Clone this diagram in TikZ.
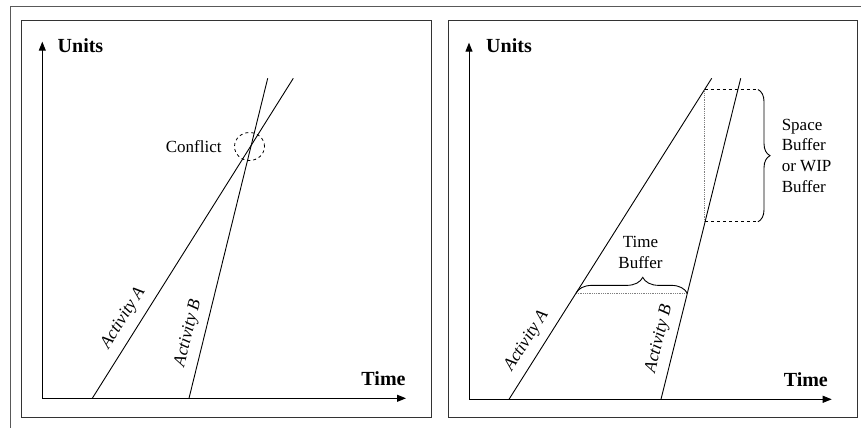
\documentclass[tikz,border=0pt]{standalone}
\usepackage{fontspec}
\setmainfont{Liberation Serif}
\usetikzlibrary{arrows.meta,decorations.pathreplacing,positioning,shapes.geometric}

\tikzset{
  axis/.style={line width=0.9pt, -{Triangle[length=9pt,width=7pt]}},
  activity/.style={line width=0.9pt},
  panel/.style={draw=black!80, line width=1pt},
  axislabel/.style={font=\fontsize{20}{23}\selectfont\bfseries},
  actlabel/.style={font=\fontsize{17.5}{20}\selectfont\itshape, sloped, above=8pt, inner sep=0pt},
  txt/.style={font=\fontsize{17}{20.6}\selectfont},
  bufline/.style={dashed, line width=0.8pt},
  guide/.style={densely dotted, gray, line width=0.8pt},
  bracepath/.style={decorate, line width=0.9pt},
}

\begin{document}
\begin{tikzpicture}[x=1pt,y=1pt]
    \useasboundingbox (0,0) rectangle (861,428);

    % outer frame (cut at right and bottom)
    \draw[black!65, line width=1pt] (861,421) -- (10,421) -- (10,0);

    % left panel: conflict
    \draw[panel] (21.7,10.3) rectangle (431.7,407.3);
    \coordinate (o1) at (42.3,29.7);
    \coordinate (y1) at (42.3,386.3);
    \coordinate (x1) at (406,29.7);
    \draw[axis] (o1) -- (y1);
    \draw[axis] (o1) -- (x1);
    \node[axislabel] (units1) at (80.5,382) {Units};
    \node[axislabel] (time1) at (383.5,49) {Time};

    \coordinate (a1s) at (92.3,29.7);
    \coordinate (a1e) at (293.3,349.7);
    \coordinate (b1s) at (189,29.7);
    \coordinate (b1e) at (267.7,349.7);
    \draw[activity] (a1s) -- (a1e) node[actlabel, pos=.223] (act1a) {Activity A};
    \draw[activity] (b1s) -- (b1e) node[actlabel, pos=.192] (act1b) {Activity B};

    \node[ellipse, draw, dashed, line width=0.8pt, minimum width=30pt, minimum height=28pt] (conflict) at (249.5,281.5) {};
    \node[txt, left=9pt of conflict] (conflictlbl) {Conflict};

    % right panel: time buffer and space buffer
    \draw[panel] (448.3,10.3) rectangle (857.3,407.3);
    \coordinate (o2) at (469,28.7);
    \coordinate (y2) at (469,385.3);
    \coordinate (x2) at (831.7,28.7);
    \draw[axis] (o2) -- (y2);
    \draw[axis] (o2) -- (x2);
    \node[axislabel] (units2) at (509,382.3) {Units};
    \node[axislabel] (time2) at (805.8,48) {Time};

    \coordinate (a2s) at (509,28.7);
    \coordinate (a2e) at (711.7,349.7);
    \coordinate (b2s) at (661,28.7);
    \coordinate (b2e) at (740.7,349.7);
    \draw[activity] (a2s) -- (a2e) node[actlabel, pos=.155] (act2a) {Activity A}
        coordinate[pos=.33] (ta) coordinate[pos=.965] (sa);
    \draw[activity] (b2s) -- (b2e) node[actlabel, pos=.176] (act2b) {Activity B}
        coordinate[pos=.33] (tb) coordinate[pos=.553] (sb);

    % time buffer
    \draw[guide] (ta) -- (tb);
    \draw[bracepath, decoration={brace, amplitude=16pt, aspect=0.6}] (ta) -- (tb)
        node[txt, pos=.58, above=21pt, align=center] (timebuf) {Time\\Buffer};

    % space buffer
    \coordinate (bx) at (758,0);
    \draw[guide] (sa) -- (sa |- sb);
    \draw[bufline] (sa) -- (sa -| bx) coordinate (st);
    \draw[bufline] (sb) -- (sb -| bx) coordinate (sbt);
    \draw[bracepath, decoration={brace, amplitude=12pt}] (st) -- (sbt)
        node[txt, midway, right=20pt, align=left] (spacebuf) {Space\\Buffer\\or WIP\\Buffer};
\end{tikzpicture}
\end{document}
